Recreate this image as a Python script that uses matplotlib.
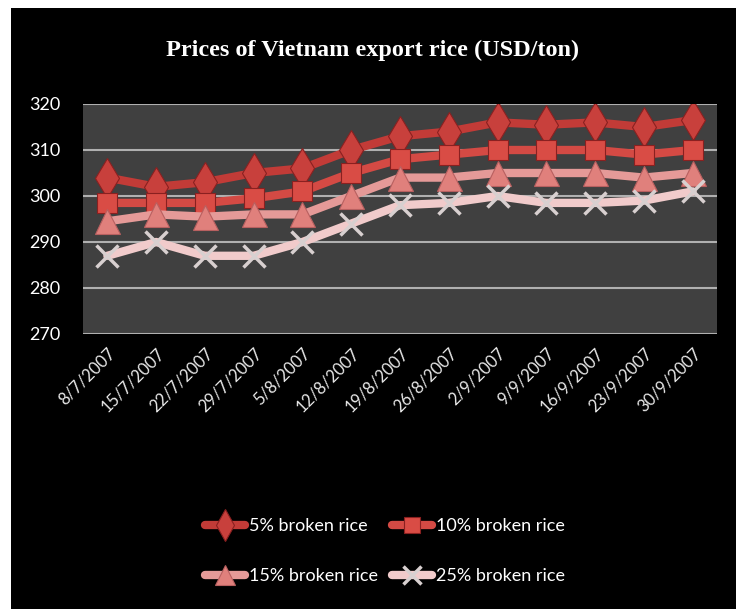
import matplotlib
matplotlib.use("Agg")
import matplotlib.pyplot as plt
from matplotlib.patches import Rectangle

dates = ["8/7/2007", "15/7/2007", "22/7/2007", "29/7/2007", "5/8/2007", "12/8/2007",
         "19/8/2007", "26/8/2007", "2/9/2007", "9/9/2007", "16/9/2007", "23/9/2007", "30/9/2007"]
broken5 = [304, 302, 303, 305, 306, 310, 313, 314, 316, 315.5, 316, 315, 316.5]
broken10 = [298.5, 298.5, 298.5, 299.5, 301, 305, 308, 309, 310, 310, 310, 309, 310]
broken15 = [294.5, 296, 295.5, 296, 296, 300, 304, 304, 305, 305, 305, 304, 305]
broken25 = [287, 290, 287, 287, 290, 294, 298, 298.5, 300, 298.5, 298.5, 299, 301]
yticks = [270, 280, 290, 300, 310, 320]
title = "Prices of Vietnam export rice (USD/ton)"

fig = plt.figure(figsize=(7.36, 6.09), dpi=100, facecolor="black")
# white border strips (top and left)
fig.patches.append(Rectangle((0, 1 - 8 / 609), 1, 8 / 609, transform=fig.transFigure,
                             facecolor="white", edgecolor="none"))
fig.patches.append(Rectangle((0, 0), 11 / 736, 1, transform=fig.transFigure,
                             facecolor="white", edgecolor="none"))

ax = fig.add_axes([83 / 736, 1 - 334 / 609, (717 - 83) / 736, (334 - 104) / 609])
ax.set_facecolor("#404040")
for s in ax.spines.values():
    s.set_visible(False)

x = list(range(len(dates)))
series = [
    (broken5, "5% broken rice", "#c23b37", "d", 20, "#c8403c", "#8a2020"),
    (broken10, "10% broken rice", "#d44a44", "s", 15, "#d94c45", "#8a2020"),
    (broken15, "15% broken rice", "#e59a98", "^", 18, "#e0807c", "#b86060"),
    (broken25, "25% broken rice", "#f1cbcb", "x", 16, "#d8d0d0", "#d8d0d0"),
]
handles = {}
for vals, lab, col, mk, ms, mcol, ecol in series:
    mew = 2.5 if mk == "x" else 0.8
    ln, = ax.plot(x, vals, color=col, lw=6, marker=mk, markersize=ms, label=lab,
                  markerfacecolor=mcol, markeredgecolor=ecol, markeredgewidth=mew,
                  solid_capstyle="round", solid_joinstyle="round")
    handles[lab] = ln

ax.set_xlim(-0.5, len(dates) - 0.5)
ax.set_ylim(270, 320)
ax.set_yticks(yticks)
ax.yaxis.grid(True, color="#b0b0b0", lw=1.5)
ax.set_axisbelow(True)
ax.tick_params(axis="both", length=0, colors="white")
ax.set_xticks(x)
ax.set_xticklabels(dates, rotation=45, ha="right", rotation_mode="anchor",
                   fontsize=12, family="Lato", color="#e8e8e8")
ax.set_yticklabels([str(v) for v in yticks], fontsize=13, family="Lato", color="white")
ax.tick_params(axis="x", pad=8)
ax.tick_params(axis="y", pad=16)

fig.text(373 / 736, 1 - 50 / 609, title, ha="center", va="center", color="white",
         fontsize=17.5, family="Liberation Serif", fontweight="bold")

order = ["5% broken rice", "15% broken rice", "10% broken rice", "25% broken rice"]
leg = fig.legend([handles[k] for k in order], order, loc="center",
                 bbox_to_anchor=(385 / 736, 1 - 551 / 609), ncol=2,
                 frameon=False, handlelength=2.2, columnspacing=0.8,
                 labelspacing=1.9, handletextpad=0.2, markerscale=0.8,
                 prop={"family": "Lato", "size": 13})
for t in leg.get_texts():
    t.set_color("white")

fig.savefig("out.png", dpi=100, facecolor=fig.get_facecolor())
